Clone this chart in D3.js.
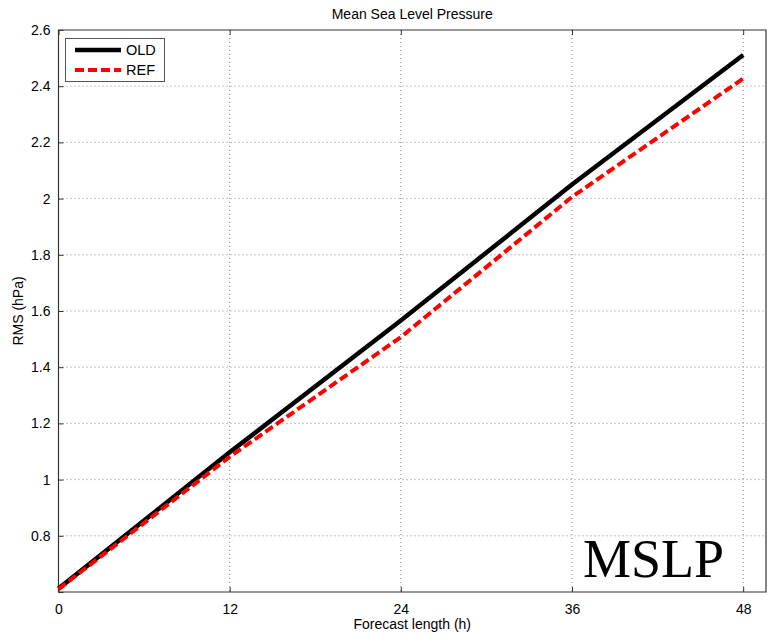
<!DOCTYPE html>
<html>
<head>
<meta charset="utf-8">
<script src="https://cdn.jsdelivr.net/npm/d3@7"></script>
<style>
  html, body { margin: 0; padding: 0; background: #fff; }
  svg { display: block; font-family: "Liberation Sans", Arial, sans-serif; }
</style>
</head>
<body>
<svg id="chart" width="767" height="635"></svg>
<script>
// Forecast lead times (hours)
const leadTimes = [0, 12, 24, 36, 48];
// RMS error of mean sea level pressure (hPa)
const oldRms = [0.612, 1.097, 1.566, 2.050, 2.511];
const refRms = [0.610, 1.081, 1.507, 2.006, 2.427];
const xTicks = [0, 12, 24, 36, 48];
const yTicks = [0.8, 1.0, 1.2, 1.4, 1.6, 1.8, 2.0, 2.2, 2.4, 2.6];

const series = [
  { name: "OLD", values: oldRms, color: "#000", width: 4.5, dash: null },
  { name: "REF", values: refRms, color: "#ff0000", width: 4, dash: "9,4" }
];

const svg = d3.select("#chart");
const plotL = 58.5, plotR = 766, plotT = 30, plotB = 592;

const x = d3.scaleLinear().domain([0, 49.6]).range([plotL, plotR]);
const y = d3.scaleLinear().domain([0.6, 2.6]).range([plotB, plotT]);

const axisColor = "#333";
const gridColor = "#888";

// grid lines
const grid = svg.append("g");
grid.selectAll(".gx").data(xTicks.filter(d => d > 0)).join("line")
  .attr("x1", d => x(d)).attr("x2", d => x(d))
  .attr("y1", plotT).attr("y2", plotB)
  .attr("stroke", gridColor).attr("stroke-width", 1).attr("stroke-dasharray", "1,3");
grid.selectAll(".gy").data(yTicks.filter(d => d < 2.6)).join("line")
  .attr("x1", plotL).attr("x2", plotR)
  .attr("y1", d => y(d)).attr("y2", d => y(d))
  .attr("stroke", gridColor).attr("stroke-width", 1).attr("stroke-dasharray", "1,3");

// axes with inward ticks
const axisStyle = g => {
  g.select(".domain").remove();
  g.selectAll(".tick line").attr("stroke", axisColor);
  g.selectAll(".tick text").attr("fill", "#000").attr("font-size", 14)
    .attr("font-family", "Liberation Sans, Arial, sans-serif");
};
svg.append("g").attr("transform", `translate(0,${plotB})`)
  .call(d3.axisBottom(x).tickValues(xTicks).tickFormat(d3.format("d")).tickSizeInner(-5).tickPadding(12))
  .call(axisStyle);
svg.append("g").attr("transform", `translate(0,${plotT})`)
  .call(d3.axisTop(x).tickValues(xTicks).tickFormat("").tickSizeInner(-5))
  .call(axisStyle);
svg.append("g").attr("transform", `translate(${plotL},0)`)
  .call(d3.axisLeft(y).tickValues([0.6, ...yTicks]).tickFormat(d => d === 0.6 ? "" : d3.format("~g")(d)).tickSizeInner(-5).tickPadding(8))
  .call(axisStyle);

// frame
svg.append("path")
  .attr("d", `M${plotL},${plotT}H${plotR}V${plotB}H${plotL}Z`)
  .attr("fill", "none").attr("stroke", axisColor).attr("stroke-width", 1.2);

// data lines
const line = d3.line().x((d, i) => x(leadTimes[i])).y(d => y(d));
series.forEach(s => {
  svg.append("path").datum(s.values)
    .attr("d", line)
    .attr("fill", "none")
    .attr("stroke", s.color)
    .attr("stroke-width", s.width)
    .attr("stroke-dasharray", s.dash)
    .attr("stroke-linejoin", "round");
});

// legend
const lg = svg.append("g");
lg.append("rect").attr("x", 65.5).attr("y", 38.5).attr("width", 99).attr("height", 43)
  .attr("fill", "#fff").attr("stroke", "#555").attr("stroke-width", 1);
series.forEach((s, i) => {
  const ly = 50 + i * 20;
  lg.append("line").attr("x1", 75).attr("x2", 121).attr("y1", ly).attr("y2", ly)
    .attr("stroke", s.color).attr("stroke-width", s.width).attr("stroke-dasharray", s.dash);
  lg.append("text").attr("x", 126).attr("y", ly + 5).attr("font-size", 14.5).text(s.name);
});

// titles
svg.append("text").attr("x", (plotL + plotR) / 2).attr("y", 19).attr("text-anchor", "middle")
  .attr("font-size", 14).text("Mean Sea Level Pressure");
svg.append("text").attr("x", (plotL + plotR) / 2).attr("y", 629).attr("text-anchor", "middle")
  .attr("font-size", 14).text("Forecast length (h)");
svg.append("text").attr("transform", `translate(23,${(plotT + plotB) / 2}) rotate(-90)`)
  .attr("text-anchor", "middle").attr("font-size", 14).text("RMS (hPa)");

// variable tag
svg.append("text").attr("x", 583).attr("y", 577)
  .attr("font-family", "Liberation Serif, Times New Roman, serif").attr("font-size", 54)
  .text("MSLP");
</script>
</body>
</html>
